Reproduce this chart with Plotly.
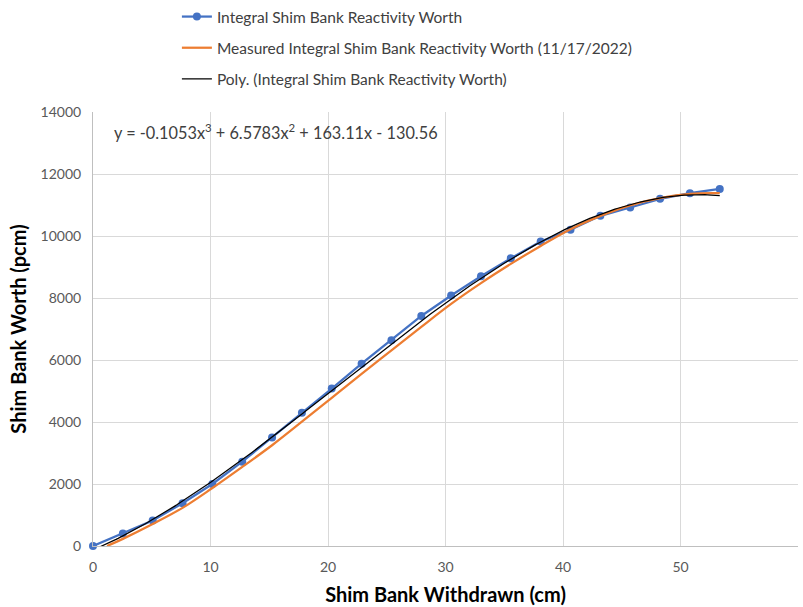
import numpy as np
import plotly.graph_objects as go

# Integral shim bank worth (calculated) — points every 2.54 cm
x_calc = [0, 2.54, 5.08, 7.62, 10.16, 12.7, 15.24, 17.78, 20.32, 22.86, 25.4,
          27.94, 30.48, 33.02, 35.56, 38.1, 40.64, 43.18, 45.72, 48.26, 50.8, 53.34]
y_calc = [0, 400, 820, 1380, 2000, 2720, 3500, 4300, 5080, 5880, 6640,
          7420, 8080, 8700, 9280, 9820, 10200, 10650, 10920, 11200, 11380, 11520]

# Measured integral shim bank worth (11/17/2022)
x_meas = [1.2, 2.54, 5.08, 7.62, 10.16, 12.7, 15.24, 17.78, 20.32, 22.86, 25.4,
          27.94, 30.48, 33.02, 35.56, 38.1, 40.64, 43.18, 45.72, 48.26, 50.8, 53.34]
y_meas = [0, 230, 710, 1230, 1870, 2550, 3250, 4010, 4780, 5550, 6310,
          7070, 7810, 8480, 9100, 9680, 10220, 10650, 10990, 11220, 11360, 11380]

# Polynomial trendline coefficients (as displayed on chart), highest power first
poly_coef = [-0.1053, 6.5783, 163.11, -130.56]
equation_text = "y = -0.1053x<sup>3</sup> + 6.5783x<sup>2</sup> + 163.11x - 130.56"

names = ["Integral Shim Bank Reactivity Worth",
         "Measured Integral Shim Bank Reactivity Worth (11/17/2022)",
         "Poly. (Integral Shim Bank Reactivity Worth)"]

x_fit = np.linspace(min(x_calc), max(x_calc), 300)
y_fit = np.polyval(poly_coef, x_fit)

fig = go.Figure()
fig.add_trace(go.Scatter(x=x_calc, y=y_calc, mode="lines+markers", name=names[0],
                         line=dict(color="#4472C4", width=2.25),
                         marker=dict(color="#4472C4", size=8),
                         cliponaxis=False, legendgroup="a"))
fig.add_trace(go.Scatter(x=x_meas, y=y_meas, mode="lines", name=names[1],
                         line=dict(color="#ED7D31", width=2.25, shape="spline"),
                         legendgroup="b"))
fig.add_trace(go.Scatter(x=x_fit, y=y_fit, mode="lines", name=names[2],
                         line=dict(color="#000000", width=1.25),
                         legendgroup="c"))

fig.add_annotation(text=equation_text, xref="paper", yref="paper",
                   x=0.027, y=0.955, xanchor="left", yanchor="middle",
                   showarrow=False, font=dict(size=16.3, color="#404040", family="Lato"))

fig.update_layout(
    width=803, height=607,
    margin=dict(l=93, r=5, t=112, b=61),
    paper_bgcolor="white", plot_bgcolor="white",
    font=dict(family="Lato", color="#595959"),
    showlegend=True,
    legend=dict(orientation="v", x=0.119, y=1.0, xref="paper", yref="container",
                xanchor="left", yanchor="top", itemwidth=30,
                tracegroupgap=8, font=dict(size=15.5, color="#404040", family="Lato"),
                bgcolor="rgba(0,0,0,0)"),
    xaxis=dict(range=[0, 60], dtick=10, tick0=0, showgrid=True, gridcolor="#D9D9D9",
               zeroline=False, showline=True, linecolor="#BFBFBF", ticks="",
               tickangle=0, ticklabelstandoff=8,
               tickfont=dict(size=14, color="#595959"),
               title=dict(text="<b>Shim Bank Withdrawn (cm)</b>", standoff=14,
                          font=dict(size=20, color="#000000", family="Lato"))),
    yaxis=dict(range=[0, 14000], dtick=2000, tick0=0, showgrid=True, gridcolor="#D9D9D9",
               zeroline=False, showline=True, linecolor="#BFBFBF", ticks="",
               ticklabelstandoff=8,
               tickformat="d", tickfont=dict(size=14, color="#595959"),
               title=dict(text="<b>Shim Bank Worth (pcm)</b>", standoff=8,
                          font=dict(size=20, color="#000000", family="Lato"))),
)

fig.write_html("out.html")
